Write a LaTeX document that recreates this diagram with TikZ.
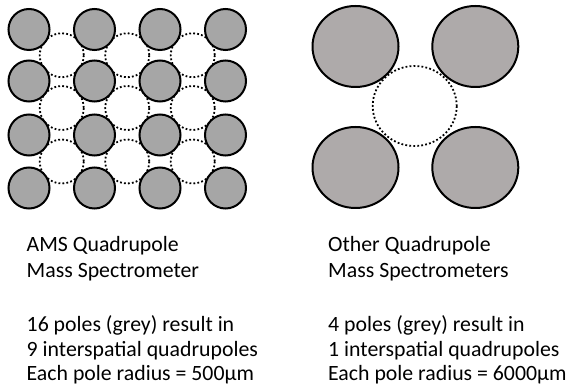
\documentclass[tikz,border=0pt]{standalone}
\usepackage{fontspec}
\setmainfont{Carlito}
\definecolor{poleL}{HTML}{A6A6A6}
\definecolor{poleR}{HTML}{AEAAAA}
\tikzset{
  pole/.style={line width=2pt},
  gap/.style={line width=1.8pt, dash pattern=on 1.8pt off 2.2pt},
  txt/.style={inner sep=0pt, anchor=base west, font=\fontsize{21.8}{25.3}\selectfont}
}
\begin{document}
\begin{tikzpicture}[x=1pt,y=-1pt]
\useasboundingbox (0,0) rectangle (573,387);
% left: interspatial quadrupoles (dotted)
\foreach \x in {61.75,127.25,192.75}{
  \foreach \y in {55.25,108,161.5}{
    \draw[gap] (\x,\y) circle [radius=22];
  }
}
% left: poles
\foreach \x in {29,94.5,160,225.5}{
  \foreach \y in {29.5,81,135,188}{
    \filldraw[pole, fill=poleL] (\x,\y) circle [radius=20.5];
  }
}
% right
\draw[gap] (414.7,106) ellipse [x radius=42, y radius=40];
\foreach \x in {355.5,475.3}{
  \foreach \y in {46.5,167.5}{
    \filldraw[pole, fill=poleR] (\x,\y) ellipse [x radius=43, y radius=40.5];
  }
}
% texts
\node[txt] (l1) at (26.5,252) {AMS Quadrupole};
\node[txt] (l2) at (26.5,277.5) {Mass Spectrometer};
\node[txt] (l3) at (26.5,331.5) {16 poles (grey) result in};
\node[txt] (l4) at (26.5,356.5) {9 interspatial quadrupoles};
\node[txt] (l5) at (26.5,381) {Each pole radius = 500µm};
\node[txt] (r1) at (328,252) {Other Quadrupole};
\node[txt] (r2) at (328,277.5) {Mass Spectrometers};
\node[txt] (r3) at (328,331.5) {4 poles (grey) result in};
\node[txt] (r4) at (328,356.5) {1 interspatial quadrupoles};
\node[txt] (r5) at (328,381) {Each pole radius = 6000µm};
\end{tikzpicture}
\end{document}
